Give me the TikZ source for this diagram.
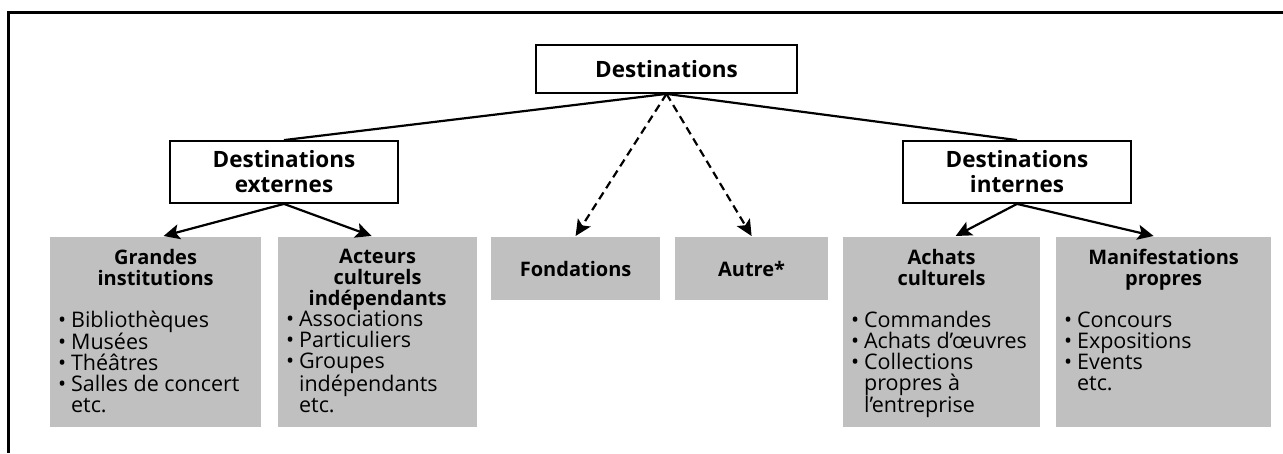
\documentclass[tikz,border=0pt]{standalone}
\usepackage{fontspec}
\setmainfont{Open Sans}
\usetikzlibrary{arrows.meta}
\definecolor{boxgray}{RGB}{192,192,192}
\newcommand{\bul}{\makebox[13pt][l]{\textbullet}}
\newcommand{\ind}{\hspace*{13pt}}

\begin{document}
\begin{tikzpicture}[x=1pt, y=-1pt, line width=2.2pt,
        every node/.style={font=\fontsize{21.5}{21}\selectfont},
        whitebox/.style={draw, fill=white, line width=1.8pt, align=center,
            font=\fontsize{22.5}{25}\selectfont\bfseries},
        graybox/.style={fill=boxgray, anchor=north west, inner xsep=8pt, inner ysep=12pt},
        flatbox/.style={fill=boxgray, anchor=north west, minimum height=63pt,
            font=\fontsize{20}{21}\selectfont\bfseries},
        pointer/.style={-{Stealth[length=16pt, width=15pt, inset=3.5pt]}}]
    \useasboundingbox (0,0) rectangle (1283,453);
    \draw[line width=2.4pt] (1283,12.5) -| (8.5,453);
    \node[whitebox, minimum width=261pt, minimum height=48pt] (dest) at (666.5,69) {Destinations};
    \node[whitebox, minimum width=228pt, minimum height=62pt] (dest-ext) at (284,172) {Destinations\\externes};
    \node[whitebox, minimum width=228pt, minimum height=62pt] (dest-int) at (1017,172) {Destinations\\internes};
    \node[graybox] (grandes) at (49,236) {\parbox[c][166pt][t]{195pt}{%
        {\centering\fontsize{20}{21}\selectfont\bfseries Grandes\\institutions\par}\vspace{21pt}
        \bul Bibliothèques\\
        \bul Musées\\
        \bul Théâtres\\
        \bul Salles de concert\\
        \ind etc.}};
    \node[graybox] (acteurs) at (277,236) {\parbox[c][166pt][t]{183pt}{%
        {\centering\fontsize{20}{21}\selectfont\bfseries Acteurs\\culturels\\indépendants\par}
        \bul Associations\\
        \bul Particuliers\\
        \bul Groupes\\
        \ind indépendants\\
        \ind etc.}};
    \node[flatbox, minimum width=169pt] (fond) at (490,236) {Fondations};
    \node[flatbox, minimum width=153pt] (autre) at (674,236) {Autre*};
    \node[graybox] (achats) at (842,236) {\parbox[c][166pt][t]{181pt}{%
        {\centering\fontsize{20}{21}\selectfont\bfseries Achats\\culturels\par}\vspace{21pt}
        \bul Commandes\\
        \bul Achats d’œuvres\\
        \bul Collections\\
        \ind propres à\\
        \ind l’entreprise}};
    \node[graybox] (manif) at (1055,236) {\parbox[c][166pt][t]{199pt}{%
        {\centering\fontsize{20}{21}\selectfont\bfseries Manifestations\\propres\par}\vspace{21pt}
        \bul Concours\\
        \bul Expositions\\
        \bul Events\\
        \ind etc.}};
    \foreach \target in {dest-ext, dest-int}
        \draw (dest.south) -- (\target.north);
    \foreach \target in {fond, autre}
        \draw[pointer, dash pattern=on 8pt off 5pt] (dest.south) -- (\target.north);
    \foreach \target/\shift in {grandes/8, acteurs/-6}
        \draw[pointer] (dest-ext.south) -- ([xshift=\shift pt]\target.north);
    \foreach \target/\shift in {achats/14, manif/-10}
        \draw[pointer] (dest-int.south) -- ([xshift=\shift pt]\target.north);
\end{tikzpicture}
\end{document}
